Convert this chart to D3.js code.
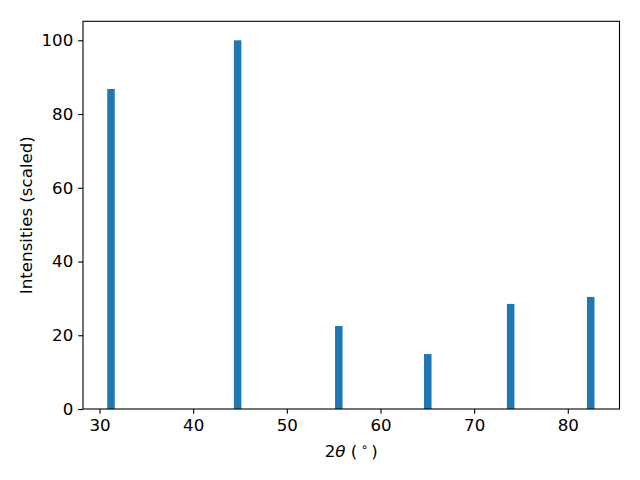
<!DOCTYPE html>
<html>
<head>
<meta charset="utf-8">
<script src="https://cdn.jsdelivr.net/npm/d3@7"></script>
<style>
  html, body { margin: 0; padding: 0; background: #fff; }
  svg { display: block; font-family: "DejaVu Sans", sans-serif; }
</style>
</head>
<body>
<svg id="chart" width="640" height="480"></svg>
<script>
// Data
const positions = [31.23, 44.75, 55.55, 65.05, 73.9, 82.45];   // 2θ (degrees)
const intensities = [86.8, 100, 22.5, 14.9, 28.5, 30.4];        // scaled intensity
const xTicks = [30, 40, 50, 60, 70, 80];
const yTicks = [0, 20, 40, 60, 80, 100];
const barWidth = 0.8;

const svg = d3.select("#chart");
const mLeft = 83, mRight = 619.5, mTop = 21.3, mBottom = 409;

const x = d3.scaleLinear().domain([28.24, 85.52]).range([mLeft, mRight]);
const y = d3.scaleLinear().domain([0, 105.15]).range([mBottom, mTop]);

svg.append("rect").attr("width", 640).attr("height", 480).attr("fill", "#fff");

// bars
svg.append("g").selectAll("rect")
  .data(positions.map((p, i) => ({p, v: intensities[i]})))
  .join("rect")
  .attr("x", d => x(d.p - barWidth / 2))
  .attr("width", d => x(d.p + barWidth / 2) - x(d.p - barWidth / 2))
  .attr("y", d => y(d.v))
  .attr("height", d => y(0) - y(d.v))
  .attr("fill", "#1f77b4");

const fs = 16.67;
const tickLen = 4.86, tickPad = 4.86;

const xAxis = svg.append("g")
  .attr("transform", `translate(0,${mBottom})`)
  .call(d3.axisBottom(x).tickValues(xTicks).tickFormat(d3.format("d"))
        .tickSizeInner(tickLen).tickSizeOuter(0).tickPadding(tickPad));
const yAxis = svg.append("g")
  .attr("transform", `translate(${mLeft},0)`)
  .call(d3.axisLeft(y).tickValues(yTicks).tickFormat(d3.format("d"))
        .tickSizeInner(tickLen).tickSizeOuter(0).tickPadding(tickPad));

[xAxis, yAxis].forEach(g => {
  g.select(".domain").remove();
  g.selectAll(".tick line").attr("stroke", "#000").attr("stroke-width", 1.1);
  g.selectAll(".tick text").attr("fill", "#000")
    .style("font-size", fs + "px").style("font-family", "DejaVu Sans, sans-serif");
});

// frame
svg.append("rect")
  .attr("x", mLeft).attr("y", mTop)
  .attr("width", mRight - mLeft).attr("height", mBottom - mTop)
  .attr("fill", "none").attr("stroke", "#000").attr("stroke-width", 1.1);

// x label: 2θ (°)
const xl = svg.append("text")
  .attr("x", (mLeft + mRight) / 2).attr("y", 457)
  .attr("text-anchor", "middle")
  .style("font-size", fs + "px").attr("fill", "#000");
xl.append("tspan").text("2");
xl.append("tspan").style("font-style", "italic").text("θ");
xl.append("tspan").text(" (\u2009");
xl.append("tspan").attr("dy", -6).style("font-size", (fs * 0.7) + "px").text("∘");
xl.append("tspan").attr("dy", 6).text("\u2009)");

// y label
svg.append("text")
  .attr("transform", `translate(32,${(mTop + mBottom) / 2}) rotate(-90)`)
  .attr("text-anchor", "middle")
  .style("font-size", fs + "px").attr("fill", "#000")
  .text("Intensities (scaled)");
</script>
</body>
</html>
